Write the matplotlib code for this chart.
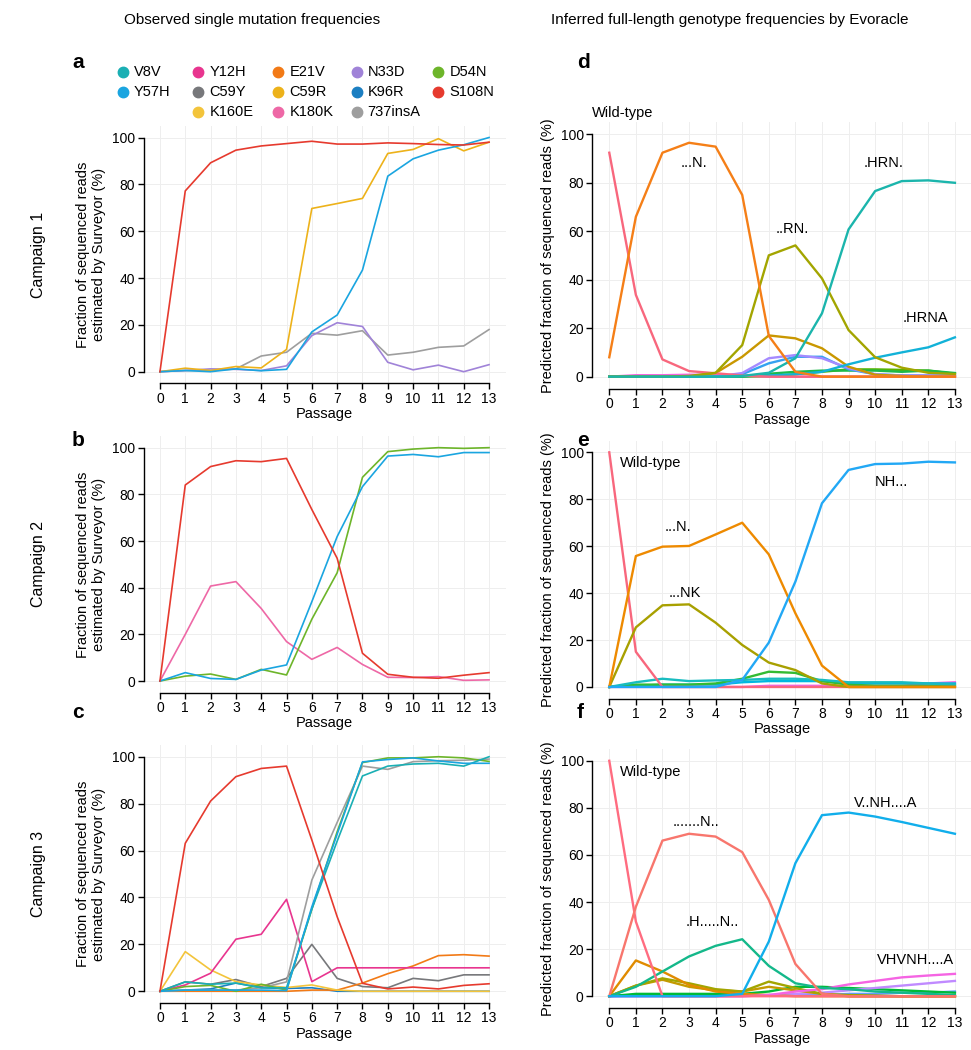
import matplotlib
matplotlib.use('Agg')
import matplotlib.pyplot as plt
from matplotlib.lines import Line2D

plt.rcParams['font.family'] = ['Liberation Sans', 'DejaVu Sans']

passage = list(range(14))

# ---------------- Campaign 1 (observed) ----------------
a_S108N = [0, 77.2, 89.2, 94.6, 96.4, 97.4, 98.4, 97.2, 97.2, 97.7, 97.4, 97.0, 96.8, 98.0]
a_C59R = [0, 1.5, 0.5, 2.2, 1.6, 9.5, 69.7, 71.8, 74.0, 93.2, 94.9, 99.5, 94.3, 98.0]
a_Y57H = [0, 0.5, 0, 1.2, 0.4, 1.0, 17.0, 24.2, 43.4, 83.5, 90.9, 94.6, 96.9, 100]
a_737insA = [0, 0.5, 0.5, 1.2, 6.7, 8.3, 16.4, 15.6, 17.5, 7.1, 8.3, 10.4, 11.0, 18.0]
a_N33D = [0, 0.5, 1.2, 1.0, 0.5, 2.5, 15.4, 20.9, 19.3, 4.0, 0.8, 2.8, 0, 3.0]

# ---------------- Campaign 2 (observed) ----------------
b_S108N = [0, 84.0, 91.9, 94.4, 94.0, 95.4, 73.5, 52.6, 11.9, 2.9, 1.6, 1.2, 2.5, 3.6]
b_K180K = [0, 20.0, 40.7, 42.6, 31.1, 16.9, 9.3, 14.4, 7.1, 1.6, 1.5, 1.9, 0.3, 0.5]
b_Y57H = [0, 3.6, 1.1, 0.7, 4.7, 6.9, 34.0, 61.9, 83.3, 96.4, 97.1, 96.1, 97.9, 97.9]
b_D54N = [0, 2.1, 3.0, 0.7, 5.0, 2.6, 26.5, 46.4, 87.3, 98.3, 99.4, 100, 99.7, 100]

# ---------------- Campaign 3 (observed) ----------------
c_S108N = [0, 63.1, 81.1, 91.5, 95.0, 96.0, 64.5, 31.8, 3.4, 1.0, 1.8, 1.0, 2.5, 3.2]
c_Y12H = [0, 2.7, 7.7, 22.2, 24.3, 39.2, 4.1, 10, 10, 10, 10, 10, 10, 10]
c_K160E = [0, 16.9, 9.1, 4.1, 2.7, 1.6, 2.7, 0.5, 0, 0, 0, 0, 0, 0]
c_V8V = [0, 4.0, 3.0, 3.5, 1.5, 1.5, 35.0, 64.0, 91.8, 96.0, 96.9, 97.2, 96.0, 100]
c_Y57H = [0, 0.5, 0.5, 0.5, 0.5, 0.3, 36.0, 67.0, 97.8, 98.8, 99.5, 98.2, 97.2, 97.2]
c_D54N = [0, 2.0, 2.5, 0, 3.0, 0.5, 35.0, 68.0, 97.5, 99.5, 99.5, 100, 99.5, 98.0]
c_737insA = [0, 0.5, 0.5, 0.5, 1.5, 4.0, 47.4, 72.0, 96.0, 94.6, 97.9, 98.3, 98.5, 99.0]
c_C59Y = [0, 4.0, 3.0, 5.0, 2.0, 5.5, 20.0, 5.5, 2.0, 1.5, 5.5, 4.5, 7.0, 7.0]
c_E21V = [0, 0, 0, 0, 0, 0, 0.5, 0.5, 3.5, 7.5, 10.8, 15.2, 15.6, 15.0]
c_K96R = [0, 0.5, 1.0, 3.5, 1.5, 1.2, 1.5, 0, 0, 0, 0, 0, 0, 0]

# ---------------- Campaign 1 (Evoracle) ----------------
d_wt = [92.3, 33.7, 7.1, 2.3, 1.4, 0.5, 0, 0, 0, 0, 0, 0, 0, 0]
d_N = [8.0, 65.9, 92.3, 96.4, 94.8, 74.9, 16.8, 2.0, 0, 0, 0, 0, 0, 0]
d_RN = [0, 0, 0, 0.3, 1.6, 13.0, 50.0, 54.1, 40.5, 19.2, 8.0, 3.7, 1.6, 1.1]
d_HRN = [0, 0, 0, 0, 0, 0.3, 1.6, 7.6, 26.1, 60.7, 76.5, 80.6, 80.9, 79.9]
d_HRNA = [0, 0, 0, 0, 0, 0.2, 0.5, 1.0, 2.0, 5.1, 7.8, 10.0, 12.1, 16.2]
d_RNA = [0, 0, 0, 0, 1.5, 8.2, 17.0, 15.8, 11.7, 4.1, 0.8, 0.3, 0, 0]
d_DRN = [0, 0, 0, 0, 0, 1.5, 7.6, 8.9, 7.6, 3.5, 1.0, 0.5, 0.5, 0.5]
d_HN = [0, 0, 0, 0, 0, 1.0, 5.5, 8.2, 8.2, 3.0, 1.0, 0.5, 0.5, 0.5]
d_DHRN = [0, 0, 0, 0, 0, 0, 1.2, 2.0, 2.5, 2.5, 2.5, 2.0, 2.5, 1.5]
d_RNx = [0, 0, 0, 0, 0, 0, 0.3, 1.0, 2.0, 3.0, 3.0, 2.8, 2.5, 1.2]
d_NA = [0, 0.6, 0.6, 0.8, 0.8, 0.3, 0, 0, 0, 0, 0, 0, 0, 0]

# ---------------- Campaign 2 (Evoracle) ----------------
e_wt = [100, 15.0, 0, 0, 0, 0, 0, 0, 0, 0, 0, 0, 0, 0]
e_N = [0, 55.8, 59.8, 60.1, 65.0, 70.0, 56.5, 31.4, 9.1, 0, 0, 0, 0, 0]
e_NK = [0, 25.4, 34.8, 35.2, 27.4, 17.9, 10.4, 7.2, 1.5, 0, 0, 0, 0, 0]
e_NH = [0, 0, 0, 0, 0, 3.0, 18.9, 44.9, 78.3, 92.5, 95.0, 95.2, 96.0, 95.7]
e_g5 = [0, 2.0, 3.5, 2.5, 2.8, 3.0, 3.5, 3.5, 3.0, 2.0, 2.0, 2.0, 1.5, 1.0]
e_g6 = [0, 1.0, 1.0, 1.0, 1.5, 3.5, 6.5, 6.0, 2.5, 1.0, 0.5, 0.5, 0.5, 0.5]
e_g7 = [0, 0.5, 1.0, 1.0, 1.0, 2.0, 2.5, 2.5, 2.5, 1.5, 1.5, 1.5, 1.5, 1.5]
e_g8 = [0, 0, 0, 0, 0, 0, 0.5, 0.5, 0.5, 0.5, 0.5, 0.5, 1.5, 2.0]

# ---------------- Campaign 3 (Evoracle) ----------------
f_wt = [100, 31.7, 0, 0, 0, 0, 0, 0, 0, 0, 0, 0, 0, 0]
f_N = [0, 38.0, 66.1, 69.0, 67.8, 61.2, 40.9, 13.7, 1.0, 0, 0, 0, 0, 0]
f_VNHA = [0, 0, 0, 0, 0, 1.0, 23.2, 56.5, 76.9, 78.0, 76.3, 74.0, 71.5, 69.0]
f_HN = [0, 4.0, 10.5, 16.9, 21.4, 24.2, 12.9, 5.5, 3.5, 3.0, 2.0, 1.5, 1.0, 0.5]
f_VHVNHA = [0, 0, 0, 0, 0, 0, 0.5, 2.0, 3.0, 5.0, 6.5, 8.0, 8.8, 9.5]
f_g6 = [0, 15.2, 10.5, 4.8, 2.0, 1.0, 0.5, 0, 0, 0, 0, 0, 0, 0]
f_g7 = [0, 4.5, 7.6, 5.5, 3.0, 2.0, 6.2, 3.5, 1.0, 0.5, 0.3, 0, 0, 0]
f_g8 = [0, 4.5, 7.0, 4.0, 2.5, 2.0, 4.0, 2.5, 1.0, 0, 0, 0, 0, 0]
f_g9 = [0, 0, 0, 0, 0, 0, 0.5, 1.0, 1.5, 2.5, 3.5, 4.5, 5.5, 6.5]
f_g10 = [0, 1.0, 1.0, 1.0, 1.0, 1.0, 2.0, 4.0, 4.0, 3.5, 3.0, 2.5, 2.0, 1.5]
f_g11 = [0, 0.5, 0.5, 0.5, 0.5, 0.5, 0.5, 0.5, 0.5, 1.0, 1.0, 1.5, 1.5, 2.0]

# mutation colours (legend)
mut_names = ['V8V', 'Y12H', 'E21V', 'N33D', 'D54N',
             'Y57H', 'C59Y', 'C59R', 'K96R', 'S108N',
             None, 'K160E', 'K180K', '737insA', None]
mut_colors = {
    'V8V': '#1AAFB4', 'Y12H': '#E8358F', 'E21V': '#F27A16', 'N33D': '#A083D8',
    'D54N': '#6DB52A', 'Y57H': '#1AA5E0', 'C59Y': '#77787B', 'C59R': '#EDB21A',
    'K96R': '#1C7FC2', 'S108N': '#E63A2E', 'K160E': '#F3C43B', 'K180K': '#EE68A6',
    '737insA': '#9E9E9E',
}

fig = plt.figure(figsize=(9.71, 10.5), dpi=100)
W, H = 971.0, 1050.0


def rect(left, right, top, bottom):
    return [left / W, 1 - bottom / H, (right - left) / W, (bottom - top) / H]


def style(ax):
    ax.set_xlim(-0.65, 13.65)
    ax.set_ylim(-5, 105)
    for s in ['top', 'right']:
        ax.spines[s].set_visible(False)
    ax.spines['left'].set_bounds(0, 100)
    ax.spines['bottom'].set_bounds(0, 13)
    for s in ['left', 'bottom']:
        ax.spines[s].set_linewidth(1.0)
    ax.set_xticks(passage)
    ax.set_yticks(range(0, 101, 20))
    ax.grid(True, color='#EEEEEE', lw=0.7)
    ax.set_axisbelow(True)
    ax.tick_params(length=4, width=1.0, labelsize=10, pad=2)
    ax.set_xlabel('Passage', fontsize=10.5, labelpad=1)


left_label = 'Fraction of sequenced reads\nestimated by Surveyor (%)'
right_label = 'Predicted fraction of sequenced reads (%)'

ax_a = fig.add_axes(rect(143.5, 505.5, 125.8, 383.4))
ax_b = fig.add_axes(rect(143.5, 505.5, 436.0, 692.7))
ax_c = fig.add_axes(rect(143.5, 505.5, 745.0, 1003.0))
ax_d = fig.add_axes(rect(592.0, 972.2, 121.9, 388.8))
ax_e = fig.add_axes(rect(592.0, 972.2, 440.6, 698.7))
ax_f = fig.add_axes(rect(592.0, 972.2, 749.0, 1008.0))

obs_lw = 1.2
obs_sets = [
    (ax_a, [('737insA', a_737insA), ('N33D', a_N33D), ('C59R', a_C59R),
            ('Y57H', a_Y57H), ('S108N', a_S108N)]),
    (ax_b, [('K180K', b_K180K), ('D54N', b_D54N), ('Y57H', b_Y57H),
            ('S108N', b_S108N)]),
    (ax_c, [('K96R', c_K96R), ('C59Y', c_C59Y), ('E21V', c_E21V),
            ('K160E', c_K160E), ('Y12H', c_Y12H), ('737insA', c_737insA),
            ('D54N', c_D54N), ('V8V', c_V8V), ('Y57H', c_Y57H),
            ('S108N', c_S108N)]),
]
for ax, series in obs_sets:
    style(ax)
    for name, vals in series:
        ax.plot(passage, vals, color=mut_colors[name], lw=obs_lw)
    ax.set_ylabel(left_label, fontsize=10.5, labelpad=4)

inf_lw = 1.7
inf_sets = [
    (ax_d, [(d_NA, '#F564E3'), (d_RNx, '#5BB300'), (d_DHRN, '#1DB94A'),
            (d_HN, '#35A2F0'), (d_DRN, '#A58AFF'), (d_RNA, '#C99700'),
            (d_HRNA, '#12B2D8'), (d_wt, '#F8677D'), (d_RN, '#A3A500'),
            (d_HRN, '#1BB5AC'), (d_N, '#F57F17')]),
    (ax_e, [(e_g8, '#F564E3'), (e_g7, '#00B8E0'), (e_g6, '#33BB33'),
            (e_g5, '#18BCC0'), (e_wt, '#F8677D'), (e_NK, '#A8A000'),
            (e_N, '#EE8A00'), (e_NH, '#22A8F5')]),
    (ax_f, [(f_g11, '#619CFF'), (f_g10, '#00BA38'), (f_g9, '#C08AFF'),
            (f_g8, '#C49A00'), (f_g7, '#A3A500'), (f_g6, '#E08B00'),
            (f_VHVNHA, '#F564E3'), (f_HN, '#14B88A'), (f_wt, '#FF6C80'),
            (f_N, '#F8766D'), (f_VNHA, '#11AEEB')]),
]
for ax, series in inf_sets:
    style(ax)
    for vals, col in series:
        ax.plot(passage, vals, color=col, lw=inf_lw)
    ax.set_ylabel(right_label, fontsize=10.5, labelpad=4)

# genotype labels
lab_fs = 10.5
ax_d.text(0.5, 108.6, 'Wild-type', ha='center', va='center', fontsize=lab_fs)
ax_d.text(3.2, 88, '...N.', ha='center', va='center', fontsize=lab_fs)
ax_d.text(6.9, 61, '..RN.', ha='center', va='center', fontsize=lab_fs)
ax_d.text(10.3, 88, '.HRN.', ha='center', va='center', fontsize=lab_fs)
ax_d.text(11.9, 24, '.HRNA', ha='center', va='center', fontsize=lab_fs)

ax_e.text(0.4, 95.3, 'Wild-type', ha='left', va='center', fontsize=lab_fs)
ax_e.text(2.57, 68, '...N.', ha='center', va='center', fontsize=lab_fs)
ax_e.text(2.83, 40, '...NK', ha='center', va='center', fontsize=lab_fs)
ax_e.text(10.6, 87.5, 'NH...', ha='center', va='center', fontsize=lab_fs)

ax_f.text(0.4, 95.3, 'Wild-type', ha='left', va='center', fontsize=lab_fs)
ax_f.text(3.26, 74, '.......N..', ha='center', va='center', fontsize=lab_fs)
ax_f.text(3.87, 31.6, '.H.....N..', ha='center', va='center', fontsize=lab_fs)
ax_f.text(10.4, 82, 'V..NH....A', ha='center', va='center', fontsize=lab_fs)
ax_f.text(11.5, 15.3, 'VHVNH....A', ha='center', va='center', fontsize=lab_fs)

# column titles
fig.text(252 / W, 1 - 20 / H, 'Observed single mutation frequencies',
         ha='center', va='center', fontsize=11)
fig.text(730 / W, 1 - 20 / H,
         'Inferred full-length genotype frequencies by Evoracle',
         ha='center', va='center', fontsize=11)

# panel letters
for letter, (px, py) in zip('abcdef', [(72, 62), (72, 440), (72, 712),
                                         (577, 62), (577, 440), (577, 712)]):
    fig.text(px / W, 1 - py / H, letter, ha='left', va='center',
             fontsize=15, fontweight='bold')

# campaign labels
for i, cy in enumerate([255, 564, 874]):
    fig.text(38 / W, 1 - cy / H, 'Campaign %d' % (i + 1), rotation=90,
             ha='center', va='center', fontsize=11.5)

# legend (manual grid)
col_x = [122.7, 198.3, 278.3, 356.7, 438.3]
row_y = [72.0, 92.0, 112.0]
for idx, name in enumerate(mut_names):
    if name is None:
        continue
    r, c = divmod(idx, 5)
    x = col_x[c] / W
    y = 1 - row_y[r] / H
    fig.add_artist(Line2D([x], [y], marker='o', markersize=7.5, color=mut_colors[name],
                          linestyle='none', transform=fig.transFigure))
    fig.text(x + 11 / W, y, name, ha='left', va='center', fontsize=10.5)

fig.savefig('out.png', dpi=100)
